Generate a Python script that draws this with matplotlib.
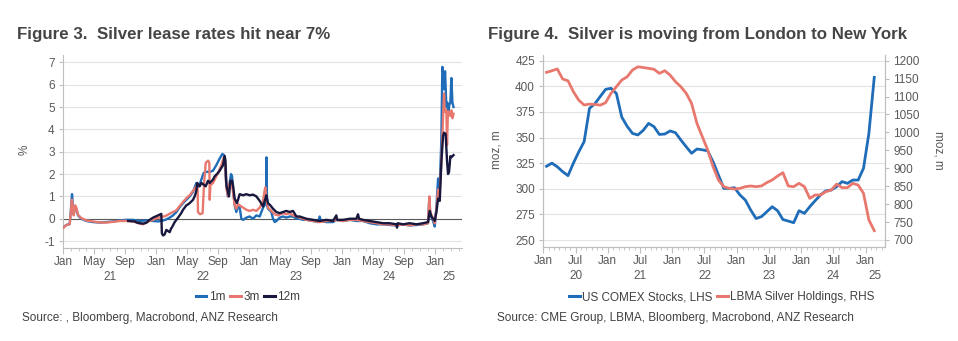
import matplotlib
matplotlib.use("Agg")
import matplotlib.pyplot as plt
from matplotlib.lines import Line2D

plt.rcParams['font.family'] = ['Liberation Sans', 'DejaVu Sans']

# ---------------- Figure 3 data (decimal years, % lease rates) ----------------
t_1m = [2021.000, 2021.036, 2021.072, 2021.085, 2021.097, 2021.105, 2021.115, 2021.130, 2021.143, 2021.161,
        2021.197, 2021.251, 2021.322, 2021.394, 2021.466, 2021.537, 2021.609, 2021.680, 2021.752, 2021.824,
        2021.895, 2021.967, 2022.021, 2022.056, 2022.100, 2022.146, 2022.182, 2022.218, 2022.250, 2022.289,
        2022.325, 2022.361, 2022.397, 2022.414, 2022.432, 2022.461, 2022.486, 2022.511, 2022.540, 2022.576,
        2022.611, 2022.647, 2022.683, 2022.712, 2022.730, 2022.755, 2022.770, 2022.790, 2022.805, 2022.816,
        2022.826, 2022.844, 2022.862, 2022.880, 2022.898, 2022.916, 2022.934, 2022.970, 2023.005, 2023.041,
        2023.077, 2023.113, 2023.149, 2023.180, 2023.186, 2023.192, 2023.202, 2023.238, 2023.256, 2023.274,
        2023.292, 2023.328, 2023.363, 2023.399, 2023.435, 2023.471, 2023.507, 2023.543, 2023.578, 2023.614,
        2023.686, 2023.740, 2023.757, 2023.770, 2023.829, 2023.901, 2023.936, 2024.008, 2024.080, 2024.151,
        2024.223, 2024.295, 2024.366, 2024.438, 2024.509, 2024.581, 2024.653, 2024.724, 2024.796, 2024.868,
        2024.921, 2024.935, 2024.945, 2024.975, 2024.993, 2025.011, 2025.029, 2025.039, 2025.050, 2025.064,
        2025.075, 2025.085, 2025.093, 2025.104, 2025.118, 2025.129, 2025.140, 2025.150, 2025.161, 2025.172,
        2025.183, 2025.195]
v_1m = [-0.40, -0.28, -0.24, 0.40, 1.10, 0.60, 0.20, 0.55, 0.45, 0.15,
        0.00, -0.10, -0.15, -0.17, -0.15, -0.12, -0.08, -0.05, -0.05, -0.10,
        -0.08, -0.10, -0.12, -0.10, -0.05, 0.05, 0.15, 0.30, 0.50, 0.70,
        0.85, 1.00, 1.20, 1.40, 1.60, 1.45, 1.75, 2.05, 2.10, 2.10,
        2.15, 2.40, 2.70, 2.90, 2.85, 1.50, 1.00, 1.60, 2.00, 1.90,
        1.40, 0.60, 0.30, 0.55, 0.50, 0.00, -0.05, 0.05, 0.10, 0.00,
        0.15, 0.10, 0.50, 0.70, 2.75, 0.60, 0.45, 0.30, 0.00, -0.15,
        -0.10, 0.05, 0.10, 0.05, 0.10, 0.10, 0.00, 0.00, -0.05, -0.05,
        -0.10, -0.15, 0.10, -0.10, -0.15, -0.15, -0.05, -0.10, -0.05, -0.10,
        -0.10, -0.20, -0.25, -0.25, -0.28, -0.30, -0.25, -0.30, -0.28, -0.25,
        -0.20, 0.90, 0.20, -0.10, -0.35, 0.50, 1.80, 1.20, 1.80, 3.50,
        6.80, 6.50, 5.80, 6.60, 5.00, 5.20, 4.80, 5.10, 5.20, 6.30,
        5.20, 5.00]

t_3m = [2021.000, 2021.020, 2021.036, 2021.072, 2021.085, 2021.095, 2021.105, 2021.115, 2021.130, 2021.143,
        2021.161, 2021.197, 2021.251, 2021.322, 2021.394, 2021.466, 2021.537, 2021.609, 2021.680, 2021.752,
        2021.824, 2021.859, 2021.895, 2021.931, 2021.967, 2022.000, 2022.056, 2022.100, 2022.157, 2022.218,
        2022.250, 2022.289, 2022.332, 2022.361, 2022.397, 2022.432, 2022.445, 2022.450, 2022.472, 2022.500,
        2022.515, 2022.533, 2022.558, 2022.572, 2022.576, 2022.583, 2022.611, 2022.629, 2022.665, 2022.701,
        2022.726, 2022.737, 2022.755, 2022.773, 2022.790, 2022.808, 2022.826, 2022.844, 2022.862, 2022.880,
        2022.898, 2022.934, 2022.970, 2023.005, 2023.041, 2023.077, 2023.113, 2023.149, 2023.167, 2023.174,
        2023.184, 2023.202, 2023.238, 2023.274, 2023.310, 2023.363, 2023.399, 2023.435, 2023.471, 2023.507,
        2023.543, 2023.578, 2023.614, 2023.686, 2023.757, 2023.829, 2023.901, 2023.936, 2024.008, 2024.080,
        2024.151, 2024.223, 2024.295, 2024.366, 2024.438, 2024.509, 2024.581, 2024.653, 2024.724, 2024.796,
        2024.868, 2024.921, 2024.935, 2024.945, 2024.975, 2024.993, 2025.011, 2025.029, 2025.039, 2025.050,
        2025.064, 2025.082, 2025.093, 2025.100, 2025.110, 2025.118, 2025.125, 2025.135, 2025.150, 2025.161,
        2025.172, 2025.183, 2025.195]
v_3m = [-0.42, -0.35, -0.28, -0.24, 0.35, 0.85, 0.55, 0.15, 0.60, 0.50,
        0.18, 0.03, -0.08, -0.12, -0.17, -0.17, -0.14, -0.10, -0.10, -0.12,
        -0.22, -0.25, -0.17, -0.10, -0.05, 0.02, 0.08, 0.12, 0.25, 0.38,
        0.55, 0.75, 0.95, 1.05, 1.25, 1.45, 1.55, 0.30, 0.20, 0.25,
        1.55, 2.50, 2.60, 2.50, 0.85, 1.50, 1.60, 1.75, 2.05, 2.40,
        2.75, 2.80, 1.40, 1.00, 1.60, 1.70, 1.20, 0.60, 0.45, 0.65,
        0.60, 0.50, 0.40, 0.35, 0.40, 0.35, 0.50, 0.80, 1.30, 1.40,
        0.90, 0.50, 0.35, 0.20, 0.15, 0.25, 0.20, 0.25, 0.15, 0.10,
        0.05, 0.00, -0.05, -0.10, -0.15, -0.10, -0.10, -0.05, -0.10, -0.05,
        -0.05, -0.10, -0.15, -0.20, -0.25, -0.25, -0.30, -0.25, -0.30, -0.25,
        -0.25, -0.20, 1.00, 0.30, 0.00, -0.20, 0.40, 1.30, 1.00, 1.35,
        2.50, 4.50, 5.60, 4.80, 4.90, 4.80, 3.30, 4.80, 4.80, 4.60,
        4.85, 4.50, 4.70]

t_12m = [2021.700, 2021.770, 2021.800, 2021.830, 2021.859, 2021.895, 2021.931, 2021.967, 2022.021, 2022.056,
         2022.062, 2022.075, 2022.092, 2022.110, 2022.128, 2022.146, 2022.160, 2022.175, 2022.200, 2022.236,
         2022.270, 2022.289, 2022.325, 2022.345, 2022.361, 2022.397, 2022.414, 2022.430, 2022.443, 2022.455,
         2022.468, 2022.486, 2022.504, 2022.533, 2022.558, 2022.576, 2022.611, 2022.629, 2022.665, 2022.683,
         2022.719, 2022.737, 2022.745, 2022.755, 2022.783, 2022.798, 2022.816, 2022.826, 2022.844, 2022.869,
         2022.898, 2022.934, 2022.970, 2023.005, 2023.041, 2023.077, 2023.113, 2023.149, 2023.174, 2023.184,
         2023.202, 2023.227, 2023.256, 2023.292, 2023.328, 2023.363, 2023.399, 2023.435, 2023.471, 2023.507,
         2023.543, 2023.578, 2023.614, 2023.686, 2023.757, 2023.829, 2023.901, 2023.936, 2023.945, 2024.008,
         2024.080, 2024.151, 2024.169, 2024.180, 2024.223, 2024.295, 2024.366, 2024.438, 2024.509, 2024.581,
         2024.588, 2024.595, 2024.653, 2024.724, 2024.796, 2024.868, 2024.921, 2024.939, 2024.957, 2024.975,
         2024.993, 2025.011, 2025.029, 2025.047, 2025.064, 2025.082, 2025.093, 2025.110, 2025.125, 2025.136,
         2025.147, 2025.161, 2025.172, 2025.195]
v_12m = [-0.10, -0.12, -0.18, -0.20, -0.22, -0.18, -0.05, 0.05, 0.15, 0.22,
         -0.65, -0.75, -0.70, -0.50, -0.55, -0.60, -0.45, -0.35, -0.15, 0.05,
         0.25, 0.40, 0.60, 0.65, 0.70, 0.85, 1.00, 1.20, 1.60, 1.50,
         1.45, 1.60, 1.55, 1.45, 1.70, 1.60, 1.75, 1.90, 2.05, 2.15,
         2.40, 2.80, 2.60, 1.50, 1.00, 1.70, 1.70, 1.50, 0.90, 0.70,
         1.10, 1.05, 1.10, 1.05, 1.08, 1.00, 0.80, 0.55, 0.90, 1.05,
         0.70, 0.60, 0.45, 0.30, 0.25, 0.30, 0.35, 0.30, 0.35, 0.10,
         0.10, 0.05, 0.00, -0.05, -0.10, -0.05, -0.10, 0.15, -0.05, -0.05,
         0.00, 0.00, 0.20, 0.00, -0.05, -0.10, -0.15, -0.20, -0.20, -0.25,
         -0.40, -0.20, -0.25, -0.20, -0.25, -0.20, -0.15, 0.35, 0.10, 0.00,
         -0.10, 0.30, 0.90, 0.80, 2.50, 3.70, 3.85, 3.80, 2.60, 2.00,
         2.10, 2.80, 2.75, 2.85]

# ---------------- Figure 4 data (monthly, Jan 2020 - Feb 2025) ----------------
t_months = [2020 + (i + 0.6) / 12 for i in range(62)]
comex = [322, 325, 321.5, 316.7, 312.8, 325, 336, 346, 378.5, 383, 390, 397,
         398, 393, 370, 361, 354, 352.5, 357, 363.8, 360.6, 353, 353.4, 356.4,
         354.7, 347.6, 341, 334.6, 338.8, 338, 337, 326.4, 313.4, 300.4, 300.4, 301,
         294, 289, 279.3, 271, 272.8, 277.6, 282.5, 278.6, 270, 268.5, 266.9, 278.6,
         276, 282.5, 288.4, 294, 298, 298.8, 302, 307, 305.3, 308.5, 308.5, 320,
         354, 408.7]
lbma = [1167.5, 1172, 1177, 1149, 1144, 1113.6, 1090, 1076.4, 1079, 1078, 1076, 1083,
        1109, 1127.5, 1146, 1155, 1174, 1183, 1181, 1178.6, 1176, 1164.7, 1172, 1160,
        1141.5, 1127.5, 1109, 1081, 1025, 988, 951, 904.5, 867.3, 848.7, 844, 842,
        844, 848.7, 850.6, 848.7, 850.6, 860, 867.3, 878.4, 887.7, 850.6, 848.7, 858,
        848.7, 816, 825.5, 825.5, 834.8, 839.4, 856, 846, 846, 858, 853.3, 830,
        755.8, 726]

BLUE = '#1F6CB8'
SALMON = '#E8786E'
NAVY = '#18183F'
TXT = '#595959'
LEG = '#404040'
TITLE = '#454545'
GRID = '#E3E3E3'
SPINE = '#BFBFBF'

W, H = 958, 341
fig = plt.figure(figsize=(W / 100, H / 100), dpi=100)
fig.patch.set_facecolor('white')


def axes_px(x0, x1, ytop, ybot):
    return fig.add_axes([x0 / W, 1 - ybot / H, (x1 - x0) / W, (ybot - ytop) / H])


def style_time_axis(ax, years, months, xlim, year_centres):
    majors, labels, minors = [], [], []
    for y in years:
        for m in range(1, 13):
            t = y + (m - 1) / 12
            if xlim[0] - 1e-9 <= t <= xlim[1]:
                minors.append(t)
                if m in months:
                    majors.append(t)
                    labels.append({1: 'Jan', 5: 'May', 7: 'Jul', 9: 'Sep'}[m])
    ax.set_xticks(majors)
    ax.set_xticklabels(labels)
    ax.set_xticks(minors, minor=True)
    ax.tick_params(axis='x', which='major', length=4, color=SPINE, labelsize=8.5,
                   labelcolor=TXT, pad=2)
    ax.tick_params(axis='x', which='minor', length=2, color=SPINE)
    for yc, lab in year_centres:
        ax.annotate(lab, xy=(yc, 0), xycoords=('data', 'axes fraction'),
                    xytext=(0, -21), textcoords='offset points',
                    ha='center', va='center', fontsize=8.5, color=TXT)


# ---------------- Left chart ----------------
axL = axes_px(63, 462, 55, 248)
axL.plot(t_1m, v_1m, color=BLUE, lw=1.7, zorder=3)
axL.plot(t_3m, v_3m, color=SALMON, lw=1.7, zorder=4)
axL.plot(t_12m, v_12m, color=NAVY, lw=1.7, zorder=5)
xlimL = (2021.0, 2025.286)
axL.set_xlim(*xlimL)
axL.set_ylim(-1.31, 7.33)
axL.set_yticks(range(-1, 8))
axL.set_yticklabels([str(v) for v in range(-1, 8)])
axL.tick_params(axis='y', length=3, color=SPINE, labelsize=8.5, labelcolor=TXT, pad=3)
axL.grid(axis='y', color=GRID, lw=0.8, zorder=0)
axL.axhline(0, color='#5a5a5a', lw=0.8, zorder=2)
for s in ['top', 'right']:
    axL.spines[s].set_visible(False)
for s in ['left', 'bottom']:
    axL.spines[s].set_color(SPINE)
axL.set_axisbelow(True)
style_time_axis(axL, range(2021, 2026), (1, 5, 9), xlimL,
                [(2021.5, '21'), (2022.5, '22'), (2023.5, '23'), (2024.5, '24'),
                 ((2025.0 + xlimL[1]) / 2, '25')])
fig.text(25 / W, 1 - 150 / H, '%', rotation=90, ha='center', va='center', fontsize=8.5, color=TXT)

# ---------------- Right chart ----------------
axR = axes_px(543.3, 885, 55, 246.7)
axR2 = axR.twinx()
xlimR = (2020.0, 2025.30)
axR.plot(t_months, comex, color=BLUE, lw=2.0, zorder=3)
axR2.plot(t_months, lbma, color=SALMON, lw=2.0, zorder=3)
axR.set_xlim(*xlimR)
axR.set_ylim(243.5, 430.5)
axR2.set_ylim(681.3, 1215.9)
axR.set_yticks(range(250, 426, 25))
axR2.set_yticks(range(700, 1201, 50))
axR.tick_params(axis='y', length=3, color=SPINE, labelsize=8.5, labelcolor=TXT, pad=3)
axR2.tick_params(axis='y', length=3, color=SPINE, labelsize=8.5, labelcolor=TXT, pad=3)
axR.grid(axis='y', color=GRID, lw=0.8, zorder=0)
axR.set_axisbelow(True)
for a in (axR, axR2):
    a.spines['top'].set_visible(False)
    for s in ['left', 'right', 'bottom']:
        a.spines[s].set_color(SPINE)
style_time_axis(axR, range(2020, 2026), (1, 7), xlimR,
                [(2020.5, '20'), (2021.5, '21'), (2022.5, '22'), (2023.5, '23'),
                 (2024.5, '24'), ((2025.0 + xlimR[1]) / 2, '25')])
axR2.tick_params(axis='x', which='both', length=0)
fig.text(497 / W, 1 - 150 / H, 'moz, m', rotation=90, ha='center', va='center', fontsize=8.5, color=TXT)
fig.text(938 / W, 1 - 150 / H, 'moz, m', rotation=270, ha='center', va='center', fontsize=8.5, color=TXT)

# ---------------- Titles ----------------
fig.text(17 / W, 1 - 35 / H, 'Figure 3.  Silver lease rates hit near 7%', fontsize=12.2,
         fontweight='bold', color=TITLE, ha='left', va='center')
fig.text(488 / W, 1 - 35 / H, 'Figure 4.  Silver is moving from London to New York', fontsize=12.2,
         fontweight='bold', color=TITLE, ha='left', va='center')

# ---------------- Legends ----------------
hL = [Line2D([], [], color=c, lw=2.2) for c in (BLUE, SALMON, NAVY)]
fig.legend(hL, ['1m', '3m', '12m'], loc='center', bbox_to_anchor=(248 / W, 1 - 297 / H),
           ncol=3, frameon=False, fontsize=8.5, handlelength=0.9, handletextpad=0.2,
           columnspacing=0.4, labelcolor=LEG, borderpad=0)
hR = [Line2D([], [], color=c, lw=2.2) for c in (BLUE, SALMON)]
fig.legend(hR, ['US COMEX Stocks, LHS', 'LBMA Silver Holdings, RHS'], loc='center',
           bbox_to_anchor=(722 / W, 1 - 297 / H), ncol=2, frameon=False, fontsize=8.5,
           handlelength=0.9, handletextpad=0.2, columnspacing=0.4, labelcolor=LEG, borderpad=0)

# ---------------- Sources ----------------
fig.text(22 / W, 1 - 318 / H, 'Source: , Bloomberg, Macrobond, ANZ Research', fontsize=8.5,
         color=LEG, ha='left', va='center')
fig.text(497 / W, 1 - 318 / H, 'Source: CME Group, LBMA, Bloomberg, Macrobond, ANZ Research',
         fontsize=8.5, color=LEG, ha='left', va='center')

fig.savefig('out.png', dpi=100, facecolor='white')
